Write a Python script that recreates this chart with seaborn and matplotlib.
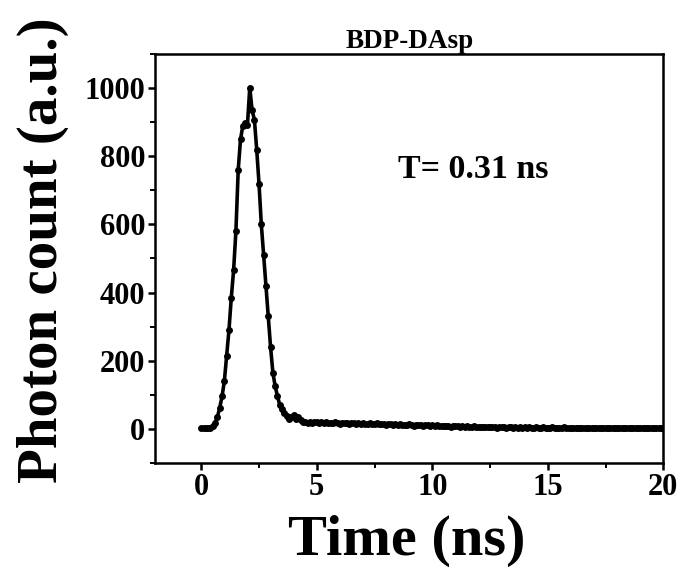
import numpy as np
import pandas as pd
import matplotlib
matplotlib.use("Agg")
import matplotlib.pyplot as plt
from matplotlib.ticker import MultipleLocator
import seaborn as sns

# decay trace, 0.1 ns channels from 0 to 20 ns
time_ns = np.round(np.arange(0, 20.05, 0.1), 1)
photon_counts = [
    2, 1, 2, 1, 3, 8, 18, 35, 62, 95,
    140, 215, 290, 385, 465, 580, 760, 850, 890, 897,
    893, 1002, 935, 908, 820, 720, 600, 510, 420, 330,
    240, 165, 125, 95, 70, 57, 45, 38, 30, 34,
    40, 30, 35, 25, 21, 20,
    18, 21, 17, 19, 20, 16, 19, 18, 21, 17,
    18, 16, 19, 17, 15, 18, 16, 17, 15, 18,
    16, 14, 17, 15, 16, 13, 15, 17, 14, 15,
    18, 14, 13, 15, 12, 14, 13, 11, 14, 12,
    13, 11, 12, 10, 13, 11, 9, 12, 10, 11,
    9, 12, 10, 8, 11, 9, 10, 8, 9, 7,
    9, 8, 6, 8, 7, 9, 6, 7, 5, 7,
    6, 5, 7, 4, 6, 5, 6, 4, 5, 6,
    4, 5, 3, 6, 4, 5, 3, 4, 5, 3,
    4, 3, 5, 2, 4, 3, 4, 2, 3, 4,
    3, 2, 4, 3, 2, 3, 4, 2, 3, 2,
    3, 4, 2, 3, 2, 3, 1, 3, 2, 3,
    2, 3, 1, 2, 3, 2, 1, 3, 2, 2,
    1, 2, 3, 1, 2, 2, 1, 3, 2, 1,
    2, 1, 2, 3, 1, 2, 1, 2, 2, 1,
    2, 1, 2, 1, 2,
]
title = "BDP-DAsp"
lifetime_label = "T= 0.31 ns"

df = pd.DataFrame({"time": time_ns, "counts": photon_counts})

sns.set_style("ticks")
plt.rcParams["font.family"] = ["Liberation Serif", "DejaVu Serif"]
plt.rcParams["font.weight"] = "bold"
plt.rcParams["text.color"] = "black"
plt.rcParams["axes.labelcolor"] = "black"
plt.rcParams["xtick.color"] = "black"
plt.rcParams["ytick.color"] = "black"
plt.rcParams["axes.edgecolor"] = "black"

fig = plt.figure(figsize=(6.86, 5.70), dpi=100)
ax = fig.add_axes([0.226, 0.188, 0.741, 0.717])

sns.lineplot(data=df, x="time", y="counts", ax=ax, color="black",
             linewidth=2.6, marker="o", markersize=5, markeredgewidth=0)

ax.set_xlim(-2, 20)
ax.set_ylim(-100, 1100)
ax.xaxis.set_major_locator(MultipleLocator(5))
ax.xaxis.set_minor_locator(MultipleLocator(2.5))
ax.yaxis.set_major_locator(MultipleLocator(200))
ax.yaxis.set_minor_locator(MultipleLocator(100))
ax.tick_params(which="major", direction="out", length=5, width=1.8,
               labelsize=22, pad=2, colors="black")
ax.tick_params(which="minor", direction="out", length=3.5, width=1.4,
               colors="black")
for lab in ax.get_xticklabels() + ax.get_yticklabels():
    lab.set_fontweight("bold")
for sp in ax.spines.values():
    sp.set_linewidth(1.8)
    sp.set_visible(True)
    sp.set_color("black")

ax.set_xlabel("Time (ns)", fontsize=42, fontweight="bold", color="black")
ax.set_ylabel("Photon count (a.u.)", fontsize=41, fontweight="bold",
              color="black")
ax.xaxis.set_label_coords(0.496, -0.127)
ax.yaxis.set_label_coords(-0.170, 0.52)
ax.set_title(title, fontsize=19.5, fontweight="bold", pad=2, color="black")
ax.text(8.5, 762, lifetime_label, fontsize=24.5, fontweight="bold",
        va="center", color="black")

fig.savefig("out.png", dpi=100)
